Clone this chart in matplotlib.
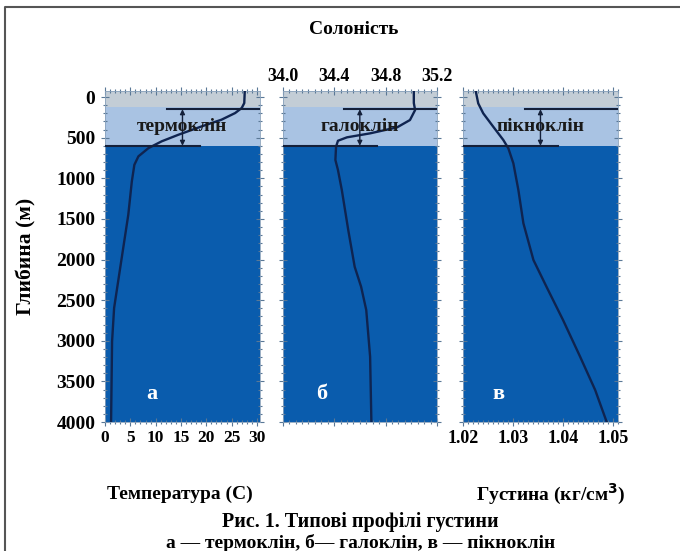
import matplotlib
matplotlib.use("Agg")
import matplotlib.pyplot as plt
from matplotlib.ticker import MultipleLocator
from matplotlib.lines import Line2D

plt.rcParams['font.family'] = ['Liberation Serif', 'DejaVu Serif']
plt.rcParams['font.weight'] = 'bold'

# depth profiles (m)
temp_depth = [-74, 74, 135, 197, 279, 361, 464, 545, 628, 730, 834, 1038, 1449, 1858, 2268, 2597, 3007, 3499, 4000]
temp_vals = [27.6, 27.5, 27.0, 25.7, 23.0, 19.1, 14.5, 11.2, 8.6, 6.6, 5.8, 5.3, 4.6, 3.6, 2.6, 1.8, 1.4, 1.3, 1.2]

sal_depth = [-74, 74, 160, 283, 373, 447, 496, 538, 612, 775, 898, 1145, 1637, 2089, 2335, 2622, 3196, 4000]
sal_vals = [35.02, 35.02, 35.03, 34.99, 34.89, 34.68, 34.50, 34.43, 34.415, 34.41, 34.43, 34.46, 34.51, 34.56, 34.61, 34.65, 34.68, 34.69]

dens_depth = [-74, 78, 201, 366, 529, 631, 816, 1145, 1554, 2006, 2335, 2745, 3196, 3606, 4000]
dens_vals = [1.0226, 1.0231, 1.0241, 1.0261, 1.0281, 1.0291, 1.0301, 1.0311, 1.0321, 1.0341, 1.0367, 1.0400, 1.0434, 1.0464, 1.0487]

# layers: mixed layer, cline layer, deep water
layer_edges = [-74, 120, 600, 4000]
layer_colors = ['#c3cdd6', '#a9c3e3', '#0a5cad']
cline_top = 150
cline_bottom = 600

depth_ticks = [0, 500, 1000, 1500, 2000, 2500, 3000, 3500, 4000]
temp_ticks = [0, 5, 10, 15, 20, 25, 30]
sal_ticks = [34.0, 34.4, 34.8, 35.2]
dens_ticks = [1.02, 1.03, 1.04, 1.05]

cline_names = ['термоклін', 'галоклін', 'пікноклін']
panel_letters = ['а', 'б', 'в']

fig = plt.figure(figsize=(6.8, 5.51), dpi=100)
fig.patch.set_facecolor('white')

bottom, height = 0.2341, 0.6007
ax1 = fig.add_axes([0.1544, bottom, 0.2279, height])
ax2 = fig.add_axes([0.4157, bottom, 0.2269, height])
ax3 = fig.add_axes([0.6804, bottom, 0.2288, height])

curve_col = '#0f2450'
line_col = '#14203a'

setups = [
    (ax1, temp_vals, temp_depth, (0, 30.6), temp_ticks, 1),
    (ax2, sal_vals, sal_depth, (34.0, 35.2), sal_ticks, 0.05),
    (ax3, dens_vals, dens_depth, (1.02, 1.051), dens_ticks, 0.001),
]

for i, (ax, vals, depth, xl, xt, minor) in enumerate(setups):
    for k in range(3):
        ax.axhspan(layer_edges[k], layer_edges[k + 1], color=layer_colors[k], lw=0, zorder=0)
    ax.plot(vals, depth, color=curve_col, lw=1.7, zorder=3)
    ax.set_xlim(*xl)
    ax.set_ylim(4000, layer_edges[0])
    ax.set_xticks(xt)
    ax.xaxis.set_minor_locator(MultipleLocator(minor))
    ax.set_yticks(depth_ticks)
    ax.yaxis.set_minor_locator(MultipleLocator(100))
    ax.tick_params(which='both', direction='inout', top=True, bottom=True, left=True, right=True,
                   color='#5a7896', width=0.8)
    ax.tick_params(which='major', length=6)
    ax.tick_params(which='minor', length=3)
    ax.tick_params(labelleft=False, labelbottom=False, labeltop=False)
    for sp in ax.spines.values():
        sp.set_color('#8aa2bc')
        sp.set_linewidth(0.6)

    # cline markers
    ax.axhline(cline_top, xmin=0.40, xmax=1.0, color=line_col, lw=1.5, zorder=4)
    ax.axhline(cline_bottom, xmin=0.0, xmax=0.61, color=line_col, lw=1.5, zorder=4)
    ax.annotate('', xy=(0.5, cline_bottom), xytext=(0.5, cline_top),
                xycoords=('axes fraction', 'data'), textcoords=('axes fraction', 'data'),
                arrowprops=dict(arrowstyle='<|-|>', color=line_col, lw=1.0, mutation_scale=7,
                                shrinkA=0, shrinkB=0), zorder=4)
    ax.text(0.5, 360, cline_names[i], transform=ax.get_yaxis_transform(), ha='center', va='center',
            fontsize=14, fontweight='bold', color='#1a1a1a', zorder=5)
    ax.text([0.30, 0.25, 0.23][i], 3660, panel_letters[i], transform=ax.get_yaxis_transform(),
            ha='center', va='center', fontsize=16, fontweight='bold', color='white', zorder=5)

ax1.tick_params(labelleft=True, labelbottom=True)
ax1.tick_params(axis='y', labelsize=14, pad=4)
ax1.tick_params(axis='x', labelsize=12.5, pad=3)
ax1.set_ylabel('Глибина (м)', fontsize=15.5, fontweight='bold', labelpad=14)

ax2.tick_params(axis='x', labeltop=True, labelsize=13, pad=1)
ax2.set_xticklabels(['34.0', '34.4', '34.8', '35.2'])

ax3.tick_params(axis='x', labelbottom=True, labelsize=13, pad=3)
ax3.set_xticklabels(['1.02', '1.03', '1.04', '1.05'])

fig.text(0.52, 0.9456, 'Солоність', ha='center', va='center', fontsize=14, fontweight='bold')
fig.text(0.2647, 0.1034, 'Температура (С)', ha='center', va='center', fontsize=14, fontweight='bold')
fig.text(0.81, 0.1034, 'Густина (кг/см$^{3}$)', ha='center', va='center', fontsize=14, fontweight='bold')
fig.text(0.53, 0.0526, 'Рис. 1. Типові профілі густини', ha='center', va='center', fontsize=14.5,
         fontweight='bold')
fig.text(0.53, 0.0145, 'а — термоклін, б— галоклін, в — пікноклін', ha='center', va='center',
         fontsize=14, fontweight='bold')

# frame (only left and top edges fall inside the picture)
fx, fy = 5 / 680, 1 - 7 / 551
fig.add_artist(Line2D([fx, fx, 1.0], [0.0, fy, fy], transform=fig.transFigure, color='#555555', lw=1.5))

fig.savefig('out.png', dpi=100)
